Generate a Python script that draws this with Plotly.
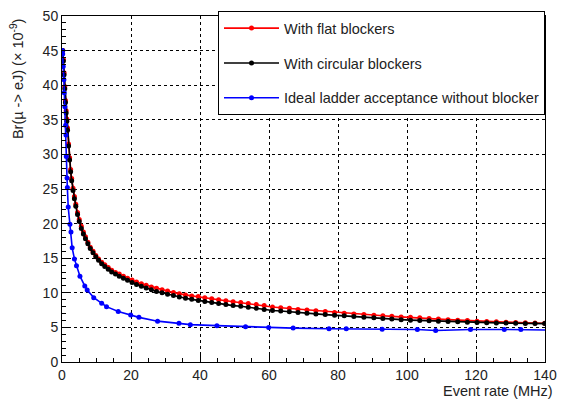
import plotly.graph_objects as go

# --------------------------------------------------
# DATA
# --------------------------------------------------

rate_blockers = [
    0.2, 0.4, 0.6, 0.8, 1.0, 1.2, 1.4, 1.6, 1.9, 2.2, 2.5, 2.8, 3.2, 3.6, 4.0,
    4.5, 5.0, 5.6, 6.2, 6.8, 7.5, 8.2, 9.0, 9.8, 10.6, 11.5, 12.4, 13.4, 14.4,
    15.5, 16.6, 17.8, 19.0, 20.3, 21.6, 23.0, 24.4, 25.9, 27.4, 29.0, 30.6,
    32.3, 34.0, 35.8, 37.6, 39.5, 41.4, 43.4, 45.4, 47.5, 49.6, 51.8, 54.0,
    56.3, 58.6, 61.0, 63.4, 65.9, 68.4, 71.0, 73.6, 76.3, 79.0, 81.8, 84.6,
    87.5, 90.4, 93.0, 95.6, 98.3, 101.0, 103.7, 106.4, 109.1, 111.9, 114.7,
    117.5, 120.3, 123.1, 125.9, 128.7, 131.5, 134.3, 137.1, 139.9
]

br_circular = [
    45.0, 43.5, 41.5, 39.5, 37.5, 36.0, 34.8, 33.5, 31.2, 29.2, 27.5, 26.2, 24.8, 23.6, 22.5,
    21.3, 20.3, 19.3, 18.5, 17.8, 17.1, 16.4, 15.8, 15.2, 14.7, 14.2, 13.8, 13.4, 13.0,
    12.7, 12.4, 12.1, 11.8, 11.5, 11.2, 10.95, 10.7, 10.45, 10.2, 10.0, 9.8,
    9.6, 9.4, 9.2, 9.05, 8.9, 8.75, 8.6, 8.45, 8.3, 8.15, 8.05, 7.9,
    7.75, 7.6, 7.45, 7.38, 7.25, 7.15, 7.05, 6.95, 6.85, 6.75, 6.68, 6.58,
    6.45, 6.38, 6.3, 6.22, 6.12, 6.05, 6.0, 5.95, 5.9, 5.85, 5.8,
    5.75, 5.72, 5.68, 5.65, 5.62, 5.6, 5.58, 5.56, 5.55
]

br_flat = [
    45.0, 43.7, 41.8, 39.8, 37.8, 36.3, 35.1, 33.8, 31.5, 29.5, 27.8, 26.5, 25.1, 23.9, 22.8,
    21.6, 20.6, 19.6, 18.8, 18.1, 17.3, 16.6, 16.0, 15.4, 14.9, 14.4, 14.05, 13.65, 13.25,
    12.95, 12.7, 12.4, 12.1, 11.85, 11.55, 11.3, 11.1, 10.85, 10.65, 10.45, 10.25,
    10.05, 9.85, 9.7, 9.55, 9.45, 9.3, 9.15, 9.0, 8.85, 8.7, 8.6, 8.45,
    8.3, 8.15, 7.95, 7.85, 7.75, 7.6, 7.5, 7.4, 7.3, 7.15, 7.05, 6.95,
    6.85, 6.75, 6.68, 6.6, 6.5, 6.45, 6.38, 6.3, 6.2, 6.12, 6.05,
    5.98, 5.9, 5.85, 5.8, 5.75, 5.7, 5.66, 5.63, 5.6
]

rate_ideal = [
    0.1, 0.2, 0.35, 0.55, 0.65, 0.85, 1.05, 1.15, 1.25, 1.45, 1.55, 1.8,
    2.3, 2.6, 2.95, 3.6, 4.2, 5.2, 6.6, 7.3, 9.2, 11.5, 12.9, 16.3, 19.9,
    22.3, 27.7, 33.9, 37.2, 44.9, 53.2, 59.9, 67.0, 77.4, 82.4, 92.8, 103.0,
    108.3, 118.4, 128.2, 133.0, 142.0
]

br_ideal = [
    45.0, 44.5, 42.7, 40.8, 38.9, 36.9, 34.2, 32.8, 29.7, 26.6, 25.2, 22.4,
    19.9, 18.8, 16.5, 14.9, 13.9, 12.4, 11.0, 10.4, 9.3, 8.5, 8.0, 7.3, 6.8,
    6.45, 5.9, 5.6, 5.4, 5.25, 5.1, 5.0, 4.9, 4.8, 4.8, 4.75, 4.7,
    4.55, 4.7, 4.7, 4.7, 4.6
]

FONT = "Liberation Sans, Arial, Helvetica, sans-serif"

# --------------------------------------------------
# FIGURE
# --------------------------------------------------

fig = go.Figure()

series = [
    ("With flat blockers", rate_blockers, br_flat, "#ff0000"),
    ("With circular blockers", rate_blockers, br_circular, "#000000"),
    ("Ideal ladder acceptance without blocker", rate_ideal, br_ideal, "#0000ff"),
]

for i, (name, x, y, color) in enumerate(series):
    fig.add_trace(
        go.Scatter(
            x=x,
            y=y,
            mode="lines+markers",
            name=name,
            legendgroup=f"g{i}",
            line=dict(color=color, width=1.6),
            marker=dict(color=color, size=5),
        )
    )

axis_common = dict(
    automargin=False,
    showline=True,
    linecolor="black",
    linewidth=1,
    mirror=True,
    ticks="inside",
    ticklen=8,
    tickcolor="black",
    ticklabeloverflow="allow",
    showgrid=True,
    gridcolor="black",
    griddash="dot",
    gridwidth=1,
    zeroline=False,
    tickfont=dict(size=14, color="#222"),
)

# the page body takes 8 px on each side, so the figure is sized to the visible part
fig.update_layout(
    width=549,
    height=392,
    margin=dict(l=54, r=12, t=8, b=38, autoexpand=False),
    paper_bgcolor="white",
    plot_bgcolor="white",
    font=dict(family=FONT, size=14, color="#222"),
    xaxis=dict(
        range=[0, 140],
        dtick=20,
        minor=dict(dtick=5, ticks="inside", ticklen=4, tickcolor="black", showgrid=False),
        **axis_common
    ),
    yaxis=dict(
        range=[0, 50],
        dtick=5,
        minor=dict(dtick=1, ticks="inside", ticklen=4, tickcolor="black", showgrid=False),
        **axis_common
    ),
    legend=dict(
        x=1.0,
        y=1.014,
        xanchor="right",
        yanchor="top",
        bgcolor="white",
        bordercolor="black",
        borderwidth=1,
        font=dict(size=14.5, color="#222"),
        tracegroupgap=13,
        itemwidth=55,
    ),
    showlegend=True,
)

fig.add_annotation(
    text="Event rate (MHz)",
    xref="paper", yref="paper",
    x=1.02, y=-0.084,
    xanchor="right", yanchor="middle",
    showarrow=False,
    font=dict(size=14.5, color="#222"),
)

fig.add_annotation(
    text="Br(µ -> eJ) (× 10<sup>-9</sup>)",
    xref="paper", yref="paper",
    x=-0.094, y=1.0,
    xanchor="center", yanchor="top",
    textangle=-90,
    showarrow=False,
    font=dict(size=14.5, color="#222"),
)

fig.write_html("out.html")
